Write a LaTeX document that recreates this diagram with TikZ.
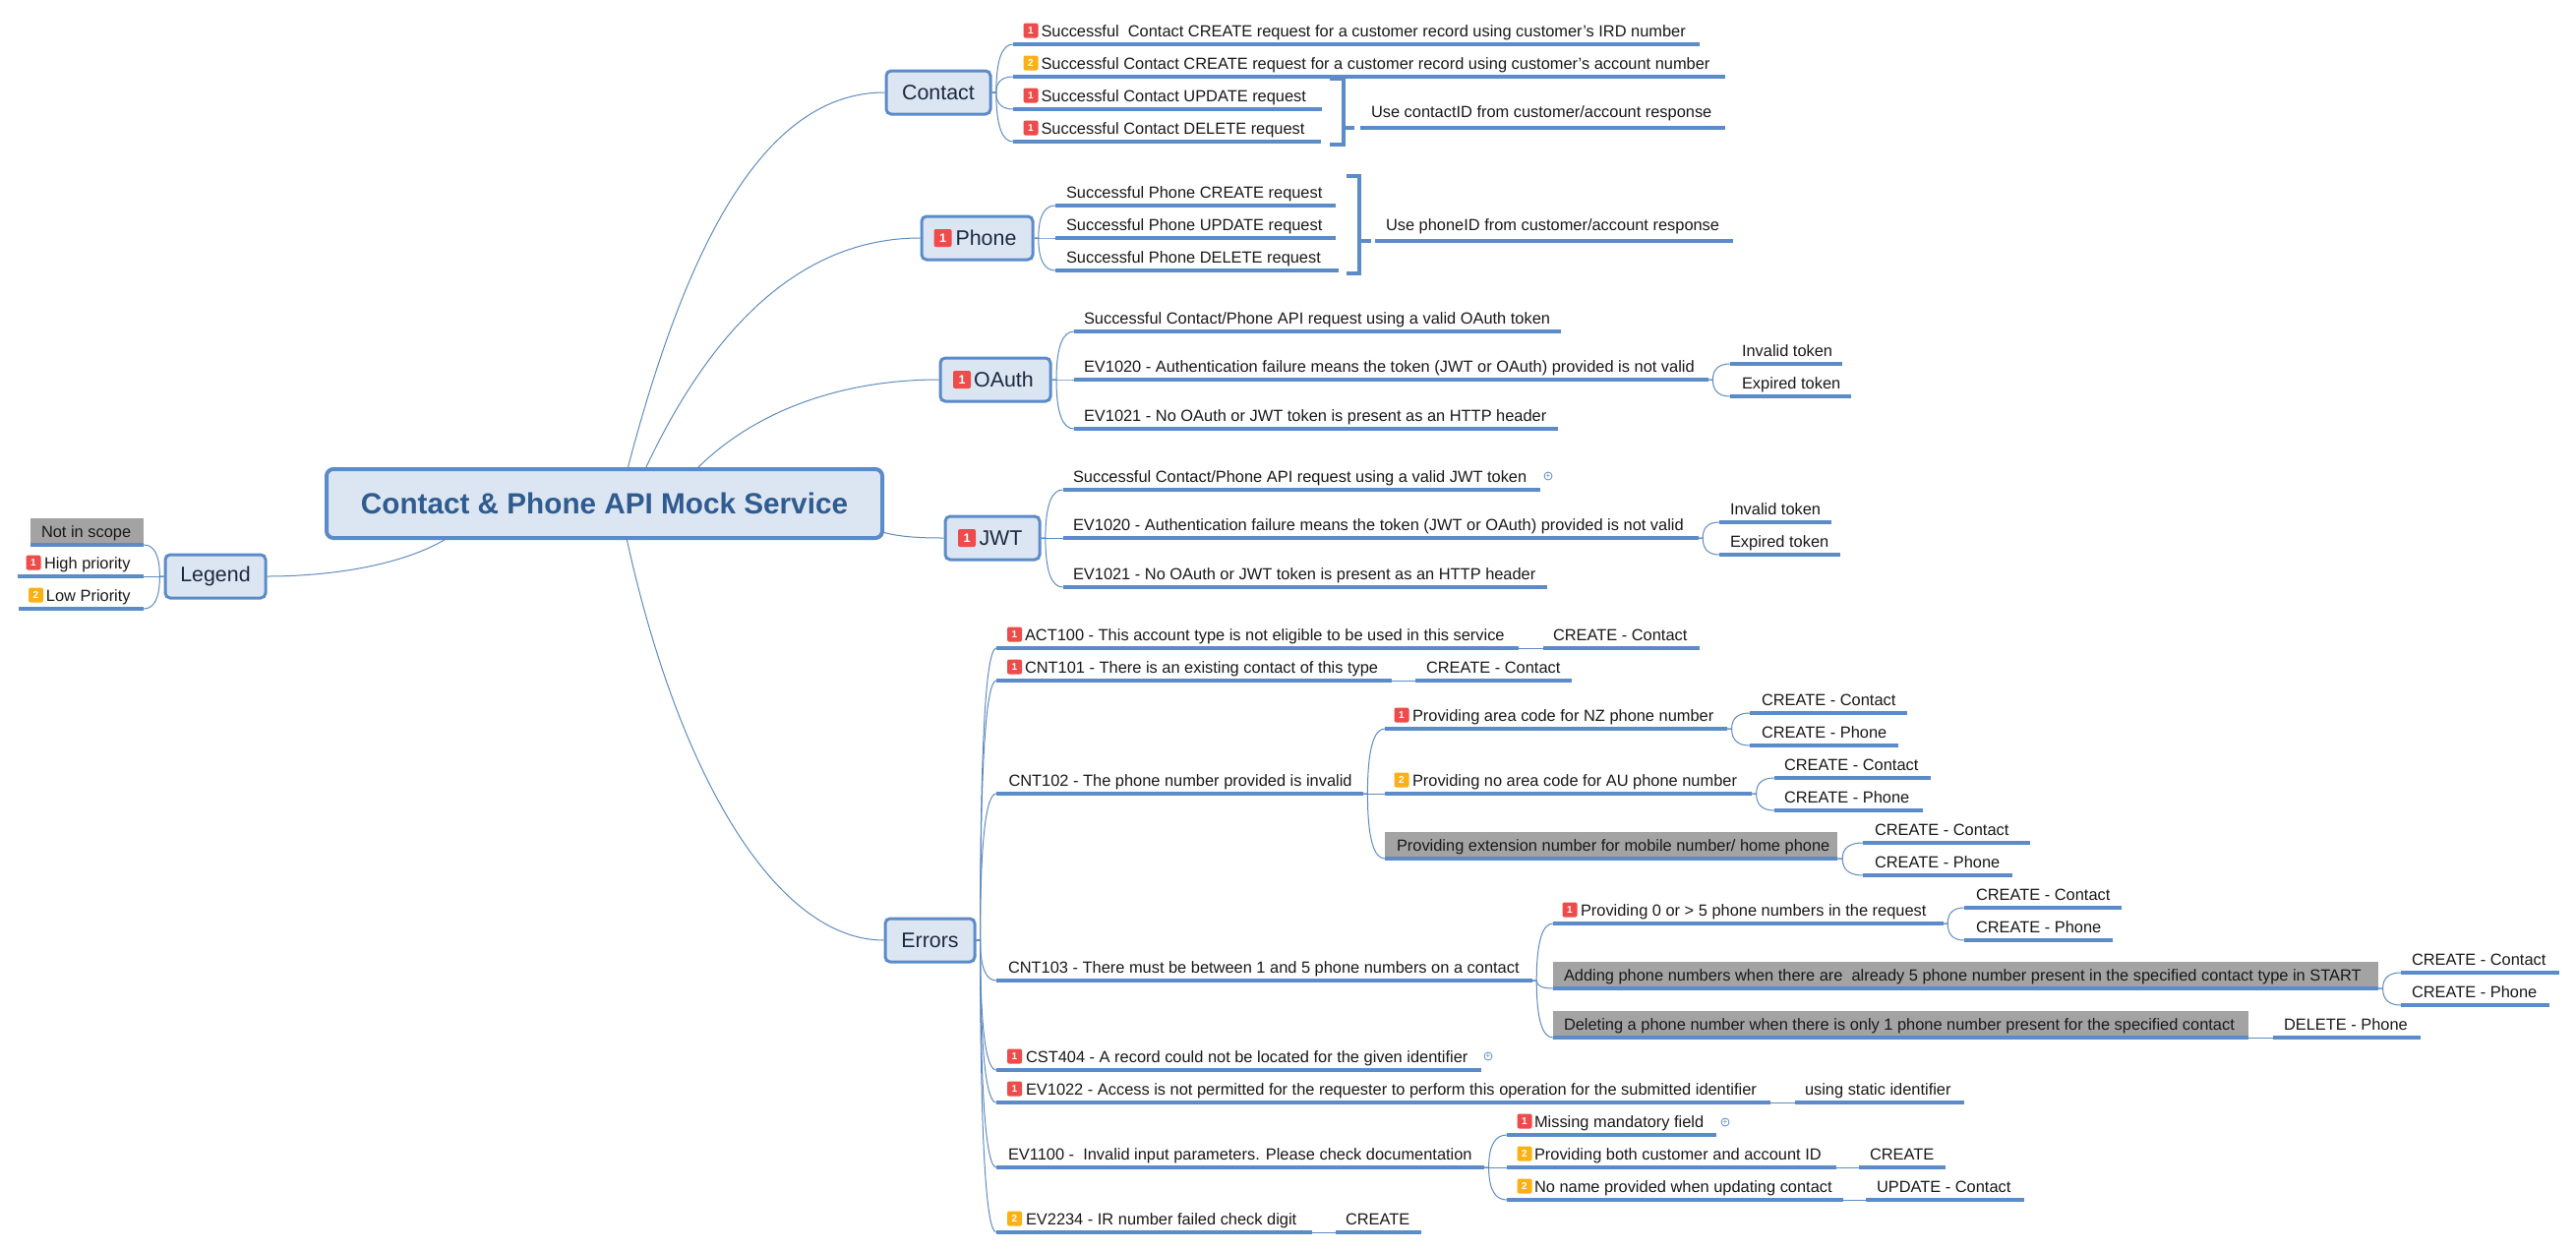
\documentclass[tikz,border=0pt]{standalone}
\usepackage{fontspec}
\setmainfont{Liberation Sans}
\usetikzlibrary{calc}
\definecolor{lineblue}{HTML}{5B8BC8}
\definecolor{thinblue}{HTML}{5F8BC0}
\definecolor{boxfill}{HTML}{DCE6F2}
\definecolor{greyfill}{HTML}{A3A3A3}
\definecolor{topictext}{HTML}{1B2A41}
\definecolor{roottext}{HTML}{2F5B90}
\definecolor{badgered}{HTML}{EE4B4B}
\definecolor{badgeorange}{HTML}{FBB116}
\tikzset{
  conn/.style={draw=thinblue,line width=1pt},
  leafbox/.style={inner sep=0pt,outer sep=0pt,minimum height=27pt,anchor=south west,
    font=\fontsize{16.4}{20}\selectfont,text=black!90},
  underline/.style={draw=lineblue,line width=3.2pt},
  greyed/.style={fill=greyfill},
  topic/.style={draw=lineblue,fill=boxfill,line width=3pt,rounded corners=5pt,inner sep=0pt,
    font=\fontsize{21.4}{25}\selectfont,text=topictext,minimum height=44pt},
  rootbox/.style={draw=lineblue,fill=boxfill,line width=4pt,rounded corners=7pt,inner sep=0pt,
    font=\fontsize{29.7}{34}\selectfont\bfseries,text=roottext,minimum width=565pt,minimum height=70pt},
  badgebase/.style={rounded corners=2pt,inner sep=0pt,minimum width=15pt,minimum height=15pt,
    font=\fontsize{10}{10}\selectfont\bfseries,text=white},
  bred/.style={badgebase,fill=badgered},
  borange/.style={badgebase,fill=badgeorange},
  bigbadge/.style={minimum width=18pt,minimum height=18pt,font=\fontsize{12.5}{12.5}\selectfont\bfseries},
  expander/.style={circle,draw=thinblue,line width=0.8pt,inner sep=0pt,minimum size=8pt,
    font=\fontsize{8}{8}\selectfont,text=thinblue},
  bracket/.style={draw=lineblue,line width=3.2pt},
}
% [style] name x1 x2 y textx text
\newcommand\leaf[7][]{%
  \pgfmathsetmacro\lfwidth{#4-#3}\pgfmathsetmacro\lfoff{#6-#3}%
  \node[leafbox,#1] (#2) at (#3,#5) {\makebox[\lfwidth pt][l]{\hspace*{\lfoff pt}\rule[-4.5pt]{0pt}{20pt}#7}};
  \draw[underline] (#2.south west) -- (#2.south east);}
% start end
\newcommand\fan[3][.2]{\draw[conn] (#2) let \p1=(#2),\p2=(#3) in
  -- ({\x1+#1*(\x2-\x1)},\y1)
  .. controls ({\x1+#1*(\x2-\x1)},{\y1+.7*(\y2-\y1)}) and ({\x1+.5*(\x2-\x1)},\y2) .. (\x2,\y2);}
\newcommand\stub[2]{\draw[conn] (#1.south east) -- (#2.south west);}
\begin{document}
\begin{tikzpicture}[x=1pt,y=-1pt]
\useasboundingbox (0,0) rectangle (2619,1270);
\fill[white] (0,0) rectangle (2619,1270);

% main topics
\node[rootbox] (root) at (614.5,512) {Contact \& Phone API Mock Service};
\node[topic,minimum width=106pt] (contact) at (954,94) {Contact};
\node[topic,minimum width=113pt] (phone) at (993.5,242) {\hspace*{18pt}Phone};
\node[bred,bigbadge] (bphone) at (958.5,242) {1};
\node[topic,minimum width=112pt] (oauth) at (1012,386) {\hspace*{17pt}OAuth};
\node[bred,bigbadge] (boauth) at (978,386) {1};
\node[topic,minimum width=96pt] (jwt) at (1009,547) {\hspace*{17pt}JWT};
\node[bred,bigbadge] (bjwt) at (983,547) {1};
\node[topic,minimum width=91pt] (errors) at (945.5,956) {Errors};
\node[topic,minimum width=102pt] (legend) at (219,586) {Legend};

\coordinate (rc) at (638,477);
\coordinate (rp) at (656,477);
\coordinate (ro) at (708,477);
\coordinate (rj) at (897,541);
\coordinate (re) at (637,547);
\coordinate (rl) at (455,547);
\draw[conn] (rc) .. controls (700,240) and (780,94) .. (contact.west);
\draw[conn] (rp) .. controls (720,340) and (810,242) .. (phone.west);
\draw[conn] (ro) .. controls (770,415) and (860,386) .. (oauth.west);
\draw[conn] (rj) .. controls (915,546) and (935,547) .. (jwt.west);
\draw[conn] (re) .. controls (690,790) and (790,956) .. (errors.west);
\draw[conn] (rl) .. controls (410,575) and (335,586) .. (legend.east);

% legend
\leaf[greyed]{nis}{31}{146}{554}{42}{Not in scope}
\leaf{high}{18}{146}{586}{45}{High priority}
\leaf{low}{19}{146}{619}{47}{Low Priority}
\node[bred] (bhigh) at (34,572) {1};
\node[borange] (blow) at (36.5,605) {2};
\fan{legend.west}{nis.south east}
\fan{legend.west}{high.south east}
\fan{legend.west}{low.south east}

% contact
\leaf{c1}{1030}{1728}{45}{1058.5}{Successful\ \ Contact CREATE request for a customer record using customer's IRD number}
\leaf{c2}{1030}{1754}{78}{1058.5}{Successful Contact CREATE request for a customer record using customer's account number}
\leaf{c3}{1030}{1344}{111}{1058.5}{Successful Contact UPDATE request}
\leaf{c4}{1030}{1343}{144}{1058.5}{Successful Contact DELETE request}
\node[bred] (bc1) at (1048,31) {1};
\node[borange] (bc2) at (1048,64) {2};
\node[bred] (bc3) at (1048,97) {1};
\node[bred] (bc4) at (1048,130) {1};
\foreach \lf in {c1,c2,c3,c4}{\fan{contact.east}{\lf.south west}}
\leaf{csum}{1383}{1754}{130}{1394}{\raisebox{3pt}{Use contactID from customer/account response}}
\coordinate (cbt) at (1352,80);
\coordinate (cbb) at (1352,147);
\coordinate (cbm) at (1366,130);
\coordinate (cbe) at (1377,130);
\draw[bracket] (cbt) -- (1366,80) -- (1366,147) -- (cbb);
\draw[bracket] (cbm) -- (cbe);

% phone
\leaf{p1}{1073}{1358}{209}{1084}{Successful Phone CREATE request}
\leaf{p2}{1073}{1358}{242}{1084}{Successful Phone UPDATE request}
\leaf{p3}{1073}{1361}{275}{1084}{Successful Phone DELETE request}
\foreach \lf in {p1,p2,p3}{\fan{phone.east}{\lf.south west}}
\leaf{psum}{1398}{1762}{245}{1409}{\raisebox{3pt}{Use phoneID from customer/account response}}
\coordinate (pbt) at (1368.5,179);
\coordinate (pbb) at (1368.5,278);
\coordinate (pbm) at (1382,245);
\coordinate (pbe) at (1394,245);
\draw[bracket] (pbt) -- (1382,179) -- (1382,278) -- (pbb);
\draw[bracket] (pbm) -- (pbe);

% oauth
\leaf{o1}{1092}{1587}{337}{1102}{Successful Contact/Phone API request using a valid OAuth token}
\leaf{o2}{1092}{1737}{386}{1102}{EV1020 - Authentication failure means the token (JWT or OAuth) provided is not valid}
\leaf{o3}{1092}{1584}{436}{1102}{EV1021 - No OAuth or JWT token is present as an HTTP header}
\foreach \lf in {o1,o2,o3}{\fan{oauth.east}{\lf.south west}}
\leaf{o2a}{1759}{1873}{370}{1771}{Invalid token}
\leaf{o2b}{1759}{1882}{403}{1771}{Expired token}
\fan{o2.south east}{o2a.south west}
\fan{o2.south east}{o2b.south west}

% jwt
\leaf{j1}{1080.5}{1566}{498}{1091}{Successful Contact/Phone API request using a valid JWT token}
\node[expander] (xj1) at (1574,484) {+};
\leaf{j2}{1080.5}{1727}{547}{1091}{EV1020 - Authentication failure means the token (JWT or OAuth) provided is not valid}
\leaf{j3}{1080.5}{1573}{597}{1091}{EV1021 - No OAuth or JWT token is present as an HTTP header}
\foreach \lf in {j1,j2,j3}{\fan{jwt.east}{\lf.south west}}
\leaf{j2a}{1748}{1862}{531}{1759}{Invalid token}
\leaf{j2b}{1748}{1871}{564}{1759}{Expired token}
\fan{j2.south east}{j2a.south west}
\fan{j2.south east}{j2b.south west}

% errors
\leaf{act}{1013}{1544}{659}{1042}{ACT100 - This account type is not eligible to be used in this service}
\node[bred] (bact) at (1031.5,645) {1};
\leaf{acta}{1569}{1728}{659}{1579}{CREATE - Contact}
\stub{act}{acta}
\leaf{cnta}{1013}{1415}{692}{1042}{CNT101 - There is an existing contact of this type}
\node[bred] (bcnta) at (1031.5,678) {1};
\leaf{cntaa}{1439}{1598}{692}{1450}{CREATE - Contact}
\stub{cnta}{cntaa}
\leaf{cntb}{1013}{1386}{807}{1025.5}{CNT102 - The phone number provided is invalid}
\leaf{cntc}{1013}{1558}{997}{1025}{CNT103 - There must be between 1 and 5 phone numbers on a contact}
\leaf{cst}{1013}{1506}{1088}{1043}{CST404 - A record could not be located for the given identifier}
\node[bred] (bcst) at (1031.5,1074) {1};
\node[expander] (xcst) at (1513,1074) {+};
\leaf{eva}{1013}{1800}{1121}{1043}{EV1022 - Access is not permitted for the requester to perform this operation for the submitted identifier}
\node[bred] (beva) at (1031.5,1107) {1};
\leaf{evaa}{1825}{1997}{1121}{1835}{using static identifier}
\stub{eva}{evaa}
\leaf{evb}{1013}{1509}{1187}{1025}{EV1100 -\ \ Invalid input parameters. Please check documentation}
\leaf{evc}{1013}{1334}{1253}{1043}{EV2234 - IR number failed check digit}
\node[borange] (bevc) at (1031.5,1239) {2};
\leaf{evca}{1358}{1445}{1253}{1368}{CREATE}
\stub{evc}{evca}
\foreach \lf in {act,cnta,cntb,cntc,cst,eva,evb,evc}{\fan{errors.east}{\lf.south west}}

% CNT102 children
\leaf{b1}{1408}{1756}{741}{1436}{Providing area code for NZ phone number}
\node[bred] (bb1) at (1425,727) {1};
\leaf{b2}{1408}{1781}{807}{1436}{Providing no area code for AU phone number}
\node[borange] (bb2) at (1425,793) {2};
\leaf[greyed]{b3}{1408}{1868}{873}{1420}{Providing extension number for mobile number/ home phone}
\foreach \lf in {b1,b2,b3}{\fan{cntb.south east}{\lf.south west}}
\leaf{b1a}{1779}{1939}{725}{1791}{CREATE - Contact}
\leaf{b1b}{1779}{1930}{758}{1791}{CREATE - Phone}
\leaf{b2a}{1804}{1963}{791}{1814}{CREATE - Contact}
\leaf{b2b}{1804}{1955}{824}{1814}{CREATE - Phone}
\leaf{b3a}{1894}{2064}{857}{1906}{CREATE - Contact}
\leaf{b3b}{1894}{2046}{890}{1906}{CREATE - Phone}
\fan{b1.south east}{b1a.south west}
\fan{b1.south east}{b1b.south west}
\fan{b2.south east}{b2a.south west}
\fan{b2.south east}{b2b.south west}
\fan{b3.south east}{b3a.south west}
\fan{b3.south east}{b3b.south west}

% CNT103 children
\leaf{d1}{1579}{1976}{939}{1607}{Providing 0 or > 5 phone numbers in the request}
\node[bred] (bd1) at (1596,925) {1};
\leaf[greyed]{d2}{1579}{2418}{1005}{1590}{Adding phone numbers when there are\ \ already 5 phone number present in the specified contact type in START}
\leaf[greyed]{d3}{1579}{2286}{1055}{1590}{Deleting a phone number when there is only 1 phone number present for the specified contact}
\foreach \lf in {d1,d2,d3}{\fan{cntc.south east}{\lf.south west}}
\leaf{d1a}{1997}{2157}{923}{2009}{CREATE - Contact}
\leaf{d1b}{1997}{2148}{956}{2009}{CREATE - Phone}
\leaf{d2a}{2441}{2602}{989}{2452}{CREATE - Contact}
\leaf{d2b}{2441}{2592}{1022}{2452}{CREATE - Phone}
\leaf{d3a}{2311}{2461}{1055}{2322}{DELETE - Phone}
\fan{d1.south east}{d1a.south west}
\fan{d1.south east}{d1b.south west}
\fan{d2.south east}{d2a.south west}
\fan{d2.south east}{d2b.south west}
\stub{d3}{d3a}

% EV1100 children
\leaf{e1}{1532}{1745}{1154}{1560}{Missing mandatory field}
\node[bred] (be1) at (1550,1140) {1};
\node[expander] (xe1) at (1754,1141) {+};
\leaf{e2}{1532}{1867}{1187}{1560}{Providing both customer and account ID}
\node[borange] (be2) at (1550,1173) {2};
\leaf{e3}{1532}{1874}{1220}{1560}{No name provided when updating contact}
\node[borange] (be3) at (1550,1206) {2};
\foreach \lf in {e1,e2,e3}{\fan{evb.south east}{\lf.south west}}
\leaf{e2a}{1890}{1978}{1187}{1901}{CREATE}
\leaf{e3a}{1897}{2058}{1220}{1908}{UPDATE - Contact}
\stub{e2}{e2a}
\stub{e3}{e3a}
\end{tikzpicture}
\end{document}
